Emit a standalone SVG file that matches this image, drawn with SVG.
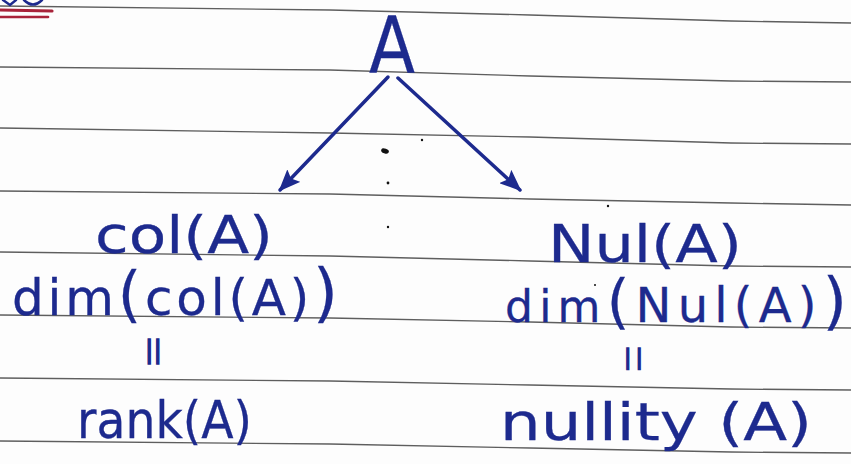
<svg xmlns="http://www.w3.org/2000/svg" width="851" height="464" viewBox="0 0 851 464">
  <style>
    .rule { fill: none; stroke: #5e5e5e; stroke-width: 1.3; }
    .ink { fill: #1d2a8e; stroke: #1d2a8e; stroke-width: 0.3; font-family: "DejaVu Sans", "Liberation Sans", sans-serif; }
    .eq { fill: #1d2a8e; stroke: #1d2a8e; stroke-width: 1.4; font-family: "DejaVu Sans", "Liberation Sans", sans-serif; }
    .conn { fill: none; stroke: #1d2a8e; stroke-width: 3.5; stroke-linecap: round; }
    .red { stroke: #a8233a; stroke-linecap: round; fill: none; }
    .dot { fill: #111; }
  </style>
  <defs>
    <marker id="head" viewBox="0 0 22 18" refX="20" refY="9" markerWidth="22" markerHeight="18" markerUnits="userSpaceOnUse" orient="auto">
      <path d="M0,0 L22,9 L0,18 L4,9 z" fill="#1d2a8e"/>
    </marker>
  </defs>
  <rect width="851" height="464" fill="#fdfdfd"/>
  <g id="paper-lines">
    <polyline class="rule" points="0,6 330,10 530,15 731,21 851,23"/>
    <polyline class="rule" points="0,67 330,70 530,76 731,81 851,82"/>
    <polyline class="rule" points="0,128 330,133 530,137 731,143 851,144"/>
    <polyline class="rule" points="0,191 330,194 530,199 731,203 851,205"/>
    <polyline class="rule" points="0,252 330,256 530,261 731,266 851,267"/>
    <polyline class="rule" points="0,315 330,318 530,322 731,327 851,328"/>
    <polyline class="rule" points="0,378 330,381 530,385 731,389 851,390"/>
    <polyline class="rule" points="0,441 330,444 530,448 731,452 851,453"/>
  </g>
  <g id="heading-fragment">
    <path d="M3,0 L10,5 L16,0 M24,0 Q33,9 42,0" fill="none" stroke="#1d2a8e" stroke-width="2.5" stroke-linecap="round"/>
    <line class="red" x1="0" y1="10" x2="52" y2="11" stroke-width="3.2"/>
    <line class="red" x1="0" y1="17" x2="48" y2="17" stroke-width="2.6"/>
  </g>
  <g id="specks">
    <ellipse class="dot" cx="385" cy="151" rx="4" ry="2.5" transform="rotate(20 385 151)"/>
    <circle class="dot" cx="422" cy="140" r="1.2"/>
    <circle class="dot" cx="388" cy="183" r="1.4"/>
    <circle class="dot" cx="388" cy="227" r="1.2"/>
    <circle class="dot" cx="608" cy="206" r="1.2"/>
    <circle class="dot" cx="595" cy="285" r="1"/>
  </g>
  <g id="connectors">
    <line class="conn" x1="388" y1="77" x2="280" y2="190" marker-end="url(#head)"/>
    <line class="conn" x1="398" y1="78" x2="520" y2="190" marker-end="url(#head)"/>
  </g>
  <g id="node-A">
    <text class="ink" x="369" y="73" font-size="78" textLength="46" lengthAdjust="spacingAndGlyphs">A</text>
  </g>
  <g id="node-col">
    <text class="ink" x="95" y="253" font-size="52" textLength="178" lengthAdjust="spacingAndGlyphs">col(A)</text>
    <text class="ink" x="12" y="315" font-size="50" textLength="326" lengthAdjust="spacing">dim<tspan font-size="60">(</tspan>col(A)<tspan font-size="64">)</tspan></text>
    <text class="eq" x="145" y="358" font-size="25">||</text>
    <text class="ink" x="77" y="438" font-size="52" textLength="175" lengthAdjust="spacingAndGlyphs">rank(A)</text>
  </g>
  <g id="node-nul">
    <text class="ink" x="548" y="262" font-size="52" textLength="194" lengthAdjust="spacingAndGlyphs">Nul(A)</text>
    <text class="ink" x="505" y="322" font-size="48" textLength="342" lengthAdjust="spacing"><tspan font-size="44">dim</tspan><tspan font-size="58">(</tspan>Nul(A)<tspan font-size="62">)</tspan></text>
    <text class="eq" x="624" y="364" font-size="22" letter-spacing="4">||</text>
    <text class="ink" x="500" y="440" font-size="52" textLength="312" lengthAdjust="spacingAndGlyphs">nullity (A)</text>
  </g>
</svg>
